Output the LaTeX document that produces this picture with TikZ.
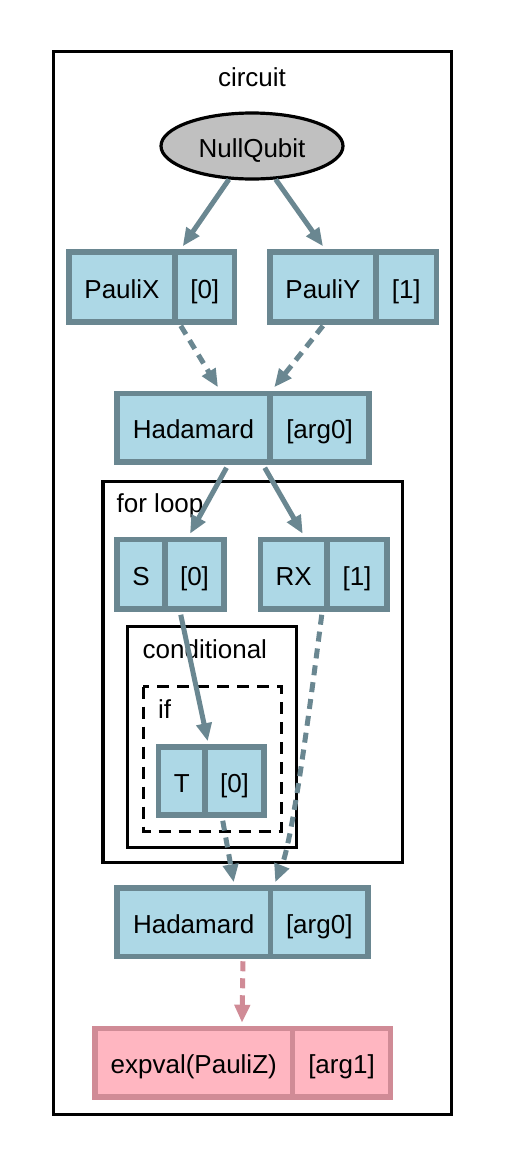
\documentclass[tikz,border=0pt]{standalone}
\usepackage{fontspec}
\setmainfont{Liberation Sans}
\usetikzlibrary{arrows.meta,shapes.geometric,calc}
\definecolor{qfill}{RGB}{173,216,230}
\definecolor{qline}{RGB}{106,135,145}
\definecolor{pfill}{RGB}{255,182,193}
\definecolor{pline}{RGB}{208,139,150}
\definecolor{nqfill}{RGB}{192,192,192}
\tikzset{
  part/.style={draw=qline, fill=qfill, line width=5.5pt, inner sep=0pt, text height=22pt, text depth=0pt},
  ppart/.style={draw=pline, fill=pfill, line width=5.5pt, inner sep=0pt, text height=22pt, text depth=0pt},
  cluster/.style={draw=black, line width=3.2pt},
  clabel/.style={inner sep=0pt},
  edge/.style={draw=qline, line width=5pt, -{Triangle[length=18pt,width=15pt]}},
  dedge/.style={edge, dash pattern=on 10pt off 7pt},
  pedge/.style={draw=pline, line width=5pt, dash pattern=on 10pt off 7pt, -{Triangle[length=18pt,width=15pt,fill=pline]}},
}
% #1 name, #2 x1, #3 xdiv, #4 x2, #5 y1, #6 y2, #7 left text, #8 right text, #9 style
\newcommand\recbox[9]{%
  \node[#9, minimum width=#3-#2, minimum height=#6-#5] (#1a) at ({(#2+#3)/2},{(#5+#6)/2}) {#7};
  \node[#9, minimum width=#4-#3, minimum height=#6-#5] (#1b) at ({(#3+#4)/2},{(#5+#6)/2}) {#8};
}
\begin{document}
\begin{tikzpicture}[x=1pt,y=-1pt,font=\fontsize{26}{30}\selectfont]
\useasboundingbox (0,0) rectangle (504,1168);
% clusters
\draw[cluster] (53.5,51.5) rectangle (451.5,1114.5);
\node[clabel,anchor=base] (lcirc) at (252,86) {circuit};
\draw[cluster] (103,481.5) rectangle (402.5,862.5);
\node[clabel,anchor=base west] (lfor) at (116.5,512.5) {for loop};
\draw[cluster] (127.5,626.5) rectangle (296.5,847.5);
\node[clabel,anchor=base west] (lcond) at (142.5,658) {conditional};
\draw[cluster, dash pattern=on 12pt off 8pt] (143.2,686.5) rectangle (281.2,831.2);
\node[clabel,anchor=base west] (lif) at (158,718) {if};
% nodes
\node[ellipse, draw=black, line width=3.2pt, fill=nqfill, minimum width=182, minimum height=66, inner sep=0pt, text height=22pt, text depth=0pt] (nq) at (252,146) {NullQubit};
\recbox{px}{69}{175}{234.5}{252}{322}{PauliX}{[0]}{part}
\recbox{py}{270}{376}{436.5}{252}{322}{PauliY}{[1]}{part}
\recbox{h}{117}{270}{369}{393.5}{462}{Hadamard}{[arg0]}{part}
\recbox{s}{117}{165}{224}{539.5}{609}{S}{[0]}{part}
\recbox{r}{260.5}{327}{387}{539.5}{609}{RX}{[1]}{part}
\recbox{t}{158.5}{205}{264}{747}{815}{T}{[0]}{part}
\recbox{hh}{117}{270.5}{368}{888}{956.5}{Hadamard}{[arg0]}{part}
\recbox{e}{95}{292.5}{390.5}{1028.5}{1097}{expval(PauliZ)}{[arg1]}{ppart}
% edges
\draw[edge] (nq) -- ($(pxa.north east)+(5,-3)$);
\draw[edge] (nq) -- ($(pya.north)+(0,-3)$);
\draw[dedge] ($(pxa.south east)+(3,1)$) -- ($(ha.north)+(24.5,-3.5)$);
\draw[dedge] ($(pya.south)+(0,1)$) -- ($(ha.north east)+(1.5,-3.5)$);
\draw[edge] ($(ha.south)+(33,3)$) -- ($(sb.north)+(-4.5,-3)$);
\draw[edge] ($(ha.south east)+(-8,3)$) -- ($(ra.north)+(9,-3)$);
\draw[edge] ($(sa.south east)+(13,3)$) -- ($(ta.north east)+(0,-3)$);
\draw[dedge] ($(ra.south east)+(-8,3)$) .. controls (302,770) and (290,845) .. ($(hha.north east)+(2,-3)$);
\draw[dedge] ($(ta.south east)+(15,3)$) -- ($(hha.north)+(40,-3)$);
\draw[pedge] ($(hha.south)+(49.25,2)$) -- ($(ea.north)+(48.25,-3)$);
\end{tikzpicture}
\end{document}
